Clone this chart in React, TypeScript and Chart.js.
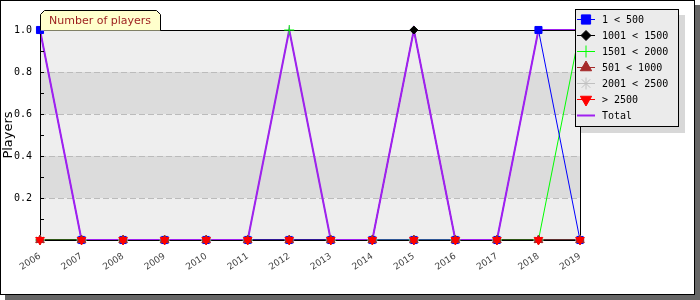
import React, { useEffect, useRef } from 'react';
import { Chart, registerables } from 'chart.js';
import { drawPoint } from 'chart.js/helpers';

Chart.register(...registerables);

const years = ['2006', '2007', '2008', '2009', '2010', '2011', '2012', '2013', '2014', '2015', '2016', '2017', '2018', '2019'];
const seriesNames = ['1 < 500', '1001 < 1500', '1501 < 2000', '501 < 1000', '2001 < 2500', '> 2500'];
const totalName = 'Total';
const chartTitle = 'Number of players';
const yAxisTitle = 'Players';

const players1to500 = [1, 0, 0, 0, 0, 0, 0, 0, 0, 0, 0, 0, 1, 0];
const players1001to1500 = [0, 0, 0, 0, 0, 0, 0, 0, 0, 1, 0, 0, 0, 0];
const players1501to2000 = [0, 0, 0, 0, 0, 0, 1, 0, 0, 0, 0, 0, 0, 1];
const players501to1000 = [0, 0, 0, 0, 0, 0, 0, 0, 0, 0, 0, 0, 0, 0];
const players2001to2500 = [0, 0, 0, 0, 0, 0, 0, 0, 0, 0, 0, 0, 0, 0];
const playersOver2500 = [0, 0, 0, 0, 0, 0, 0, 0, 0, 0, 0, 0, 0, 0];
const playersTotal = [1, 0, 0, 0, 0, 0, 1, 0, 0, 1, 0, 0, 1, 1];

const yMin = 0;
const yMax = 1;
const yLabelStep = 0.2;
const yMinorStep = 0.1;

const seriesData = [players1to500, players1001to1500, players1501to2000, players501to1000, players2001to2500, playersOver2500];

const seriesStyles = [
  { color: '#0000ff', pointStyle: 'rect', radius: 5, rotation: 0, legendRadius: 6.5, pointOrder: 4 },
  { color: '#000000', pointStyle: 'rectRot', radius: 4, rotation: 0, legendRadius: 5, pointOrder: 3 },
  { color: '#00ff00', pointStyle: 'cross', radius: 5, rotation: 0, legendRadius: 6, pointOrder: 5 },
  { color: '#a52a2a', pointStyle: 'triangle', radius: 5, rotation: 0, legendRadius: 6.5, pointOrder: 1 },
  { color: '#c0c0c0', pointStyle: 'star', radius: 5, rotation: 0, legendRadius: 6, pointOrder: 2 },
  { color: '#ff0000', pointStyle: 'triangle', radius: 5, rotation: 180, legendRadius: 6.5, pointOrder: 0 },
];
const totalColor = '#a020f0';

export default function App() {
  const ref = useRef<HTMLCanvasElement | null>(null);

  useEffect(() => {
    const canvas = ref.current;
    if (!canvas) return;

    const lineSets = seriesData.map((d, i) => ({
      label: seriesNames[i],
      data: d,
      borderColor: seriesStyles[i].color,
      backgroundColor: seriesStyles[i].color,
      borderWidth: 1,
      pointRadius: 0,
      fill: false,
      tension: 0,
      clip: false as any,
      order: 20 + i,
    }));
    const totalSet = {
      label: totalName,
      data: playersTotal,
      borderColor: totalColor,
      backgroundColor: totalColor,
      borderWidth: 2,
      pointRadius: 0,
      fill: false,
      tension: 0,
      clip: false as any,
      order: 10,
    };
    const pointSets = seriesData.map((d, i) => ({
      label: seriesNames[i] + ' points',
      data: d,
      showLine: false,
      borderColor: seriesStyles[i].color,
      backgroundColor: seriesStyles[i].color,
      pointStyle: seriesStyles[i].pointStyle,
      pointRadius: seriesStyles[i].radius,
      pointRotation: seriesStyles[i].rotation,
      pointBorderWidth: 1,
      clip: false as any,
      order: seriesStyles[i].pointOrder,
    }));
    const datasets: any[] = [...lineSets, totalSet, ...pointSets];
    const totalIndex = lineSets.length;

    const drawFrame = (chart: any) => {
      const { ctx, chartArea: a, scales } = chart;
      const ys = scales.y;
      const xs = scales.x;
      ctx.save();
      ctx.strokeStyle = '#000';
      ctx.lineWidth = 1;
      ctx.beginPath();
      for (let v = yMin + yMinorStep; v < yMax - 1e-9; v += yMinorStep) {
        const y = Math.round(ys.getPixelForValue(v)) + 0.5;
        ctx.moveTo(a.left, y);
        ctx.lineTo(a.left + 4, y);
      }
      years.forEach((_, i) => {
        const x = Math.round(xs.getPixelForValue(i)) + 0.5;
        ctx.moveTo(x, a.bottom);
        ctx.lineTo(x, a.bottom - 4);
      });
      ctx.stroke();
      ctx.strokeRect(Math.round(a.left) + 0.5, Math.round(a.top) + 0.5, Math.round(a.right - a.left), Math.round(a.bottom - a.top));
      ctx.restore();
    };

    const deco = {
      id: 'deco',
      beforeDraw(chart: any) {
        const { ctx, chartArea: a, scales } = chart;
        const ys = scales.y;
        ctx.save();
        ctx.fillStyle = '#666666';
        ctx.fillRect(5, 5, 695, 295);
        ctx.fillStyle = '#ffffff';
        ctx.fillRect(0, 0, 695, 295);
        ctx.strokeStyle = '#000';
        ctx.lineWidth = 1;
        ctx.strokeRect(0.5, 0.5, 694, 294);
        let k = 0;
        for (let v = yMin; v < yMax - 1e-9; v += yLabelStep, k++) {
          const y1 = ys.getPixelForValue(v);
          const y2 = ys.getPixelForValue(Math.min(v + yLabelStep, yMax));
          ctx.fillStyle = k % 2 === 0 ? '#eeeeee' : '#dcdcdc';
          ctx.fillRect(a.left, y2, a.right - a.left, y1 - y2);
        }
        ctx.strokeStyle = '#bbbbbb';
        ctx.setLineDash([6, 3]);
        ctx.beginPath();
        for (let v = yMin + yLabelStep; v < yMax - 1e-9; v += yLabelStep) {
          const y = Math.round(ys.getPixelForValue(v)) + 0.5;
          ctx.moveTo(a.left, y);
          ctx.lineTo(a.right, y);
        }
        ctx.stroke();
        ctx.setLineDash([]);
        ctx.fillStyle = '#000';
        ctx.font = '13px "DejaVu Sans"';
        ctx.textAlign = 'center';
        ctx.textBaseline = 'middle';
        ctx.translate(9, (a.top + a.bottom) / 2);
        ctx.rotate(-Math.PI / 2);
        ctx.fillText(yAxisTitle, 0, 0);
        ctx.restore();
      },
      afterDatasetDraw(chart: any, args: any) {
        if (args.index === totalIndex) drawFrame(chart);
      },
      afterDraw(chart: any) {
        const { ctx, chartArea: a } = chart;
        ctx.save();
        const tx0 = a.left + 0.5, tx1 = 160.5, ty0 = 10.5, ty1 = a.top + 0.5, c = 4;
        const tabPath = () => {
          ctx.beginPath();
          ctx.moveTo(tx0, ty1);
          ctx.lineTo(tx0, ty0 + c);
          ctx.lineTo(tx0 + c, ty0);
          ctx.lineTo(tx1 - c, ty0);
          ctx.lineTo(tx1, ty0 + c);
          ctx.lineTo(tx1, ty1);
        };
        tabPath();
        ctx.closePath();
        ctx.fillStyle = '#ffffcc';
        ctx.fill();
        ctx.strokeStyle = '#000';
        ctx.lineWidth = 1;
        tabPath();
        ctx.stroke();
        ctx.fillStyle = '#9b1c1c';
        ctx.font = '11px "DejaVu Sans"';
        ctx.textAlign = 'left';
        ctx.textBaseline = 'alphabetic';
        ctx.fillText(chartTitle, 49, 24);

        const lx = 575, ly = 9, lw = 103, lh = 117;
        ctx.fillStyle = '#d8d8d8';
        ctx.fillRect(lx + 6, ly + 6, lw + 1, lh + 1);
        ctx.fillStyle = '#ebebeb';
        ctx.fillRect(lx, ly, lw, lh);
        ctx.strokeStyle = '#000';
        ctx.strokeRect(lx + 0.5, ly + 0.5, lw, lh);
        const names = [...seriesNames, totalName];
        names.forEach((name, i) => {
          const y = 19.5 + i * 16;
          const isTotal = i === seriesNames.length;
          const color = isTotal ? totalColor : seriesStyles[i].color;
          ctx.strokeStyle = color;
          ctx.lineWidth = isTotal ? 2 : 1;
          ctx.beginPath();
          ctx.moveTo(577, y);
          ctx.lineTo(595, y);
          ctx.stroke();
          if (!isTotal) {
            const st = seriesStyles[i];
            ctx.fillStyle = color;
            ctx.strokeStyle = color;
            ctx.lineWidth = 1;
            drawPoint(ctx, { pointStyle: st.pointStyle as any, radius: st.legendRadius, rotation: st.rotation, borderWidth: 1 } as any, 586, y);
          }
          ctx.fillStyle = '#000';
          ctx.font = '10px "DejaVu Sans Mono"';
          ctx.textAlign = 'left';
          ctx.textBaseline = 'middle';
          ctx.fillText(name, 602, y + 0.5);
        });
        ctx.restore();
      },
    };

    const chart = new Chart(canvas, {
      type: 'line',
      data: { labels: years, datasets },
      options: {
        responsive: false,
        animation: false,
        devicePixelRatio: 1,
        events: [],
        layout: { padding: { left: 0, right: 120, top: 30, bottom: 0 } },
        plugins: { legend: { display: false }, tooltip: { enabled: false }, title: { display: false } },
        scales: {
          x: {
            type: 'category',
            offset: false,
            grid: { display: false, drawTicks: false },
            border: { display: false },
            ticks: {
              autoSkip: false,
              minRotation: 33,
              maxRotation: 33,
              padding: 11,
              color: '#444444',
              font: { family: 'DejaVu Sans', size: 9 },
            },
            afterFit: (s: any) => { s.height = 60; },
          },
          y: {
            min: yMin,
            max: yMax,
            grid: { display: false, drawTicks: false },
            border: { display: false },
            ticks: {
              stepSize: yMinorStep,
              padding: 8,
              color: '#000',
              font: { family: 'DejaVu Sans Mono', size: 10 },
              callback: (v: any) => {
                const n = Math.round(Number(v) * 10);
                if (n <= 0 || n % 2 !== 0) return '';
                return (n / 10).toFixed(1);
              },
            },
            afterFit: (s: any) => { s.width = 40; },
          },
        },
      },
      plugins: [deco],
    });
    return () => chart.destroy();
  }, []);

  return (
    <div style={{ position: 'absolute', left: 0, top: 0, width: 700, height: 300 }}>
      <canvas ref={ref} width={700} height={300} style={{ display: 'block', width: 700, height: 300 }} />
    </div>
  );
}
